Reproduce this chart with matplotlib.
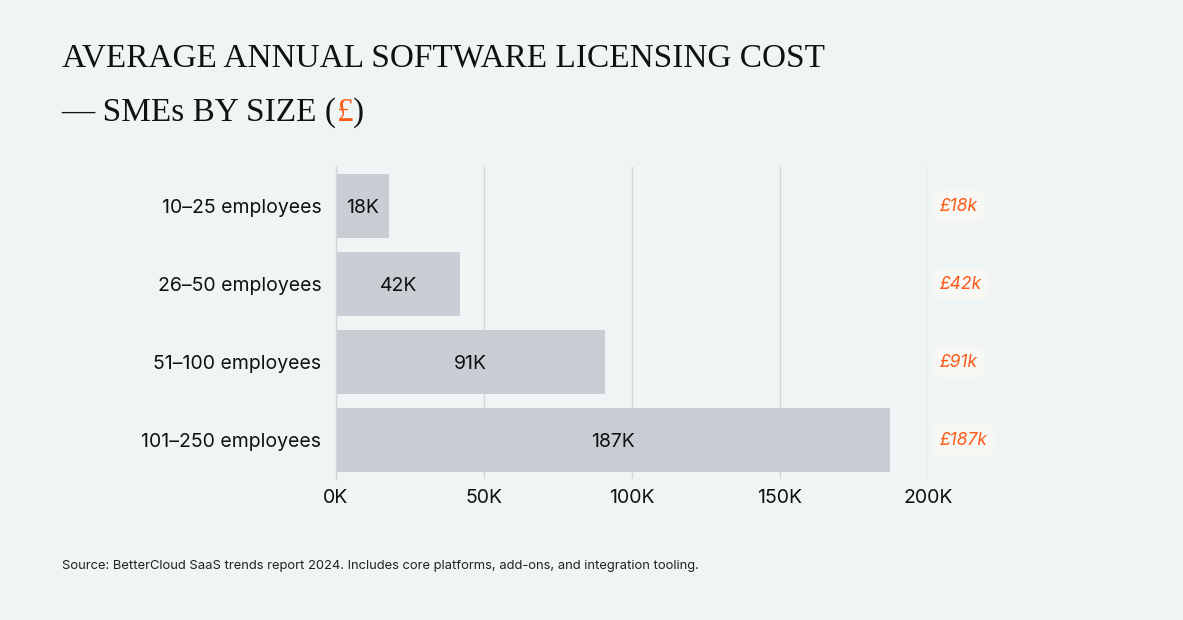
import matplotlib.pyplot as plt
from matplotlib.ticker import FuncFormatter

# data
categories = ['10–25 employees', '26–50 employees', '51–100 employees', '101–250 employees']
costs_k = [18, 42, 91, 187]
x_ticks = [0, 50, 100, 150, 200]

bg = '#eff4f4'
bar_color = '#c9ced4'
grid_color = '#d3d7da'
orange = '#ff5a1a'

fig = plt.figure(figsize=(11.83, 6.2), dpi=100, facecolor=bg)
ax = fig.add_axes([0.284, 0.2274, 0.5005, 0.5032])
ax.set_facecolor(bg)

y = range(len(categories))
bars = ax.barh(y, costs_k, height=0.82, color=bar_color, zorder=2)

ax.set_xlim(0, 200)
ax.set_ylim(len(categories) - 0.5, -0.5)
ax.set_xticks(x_ticks)
ax.xaxis.set_major_formatter(FuncFormatter(lambda v, p: f'{int(v)}K'))
ax.set_yticks(list(y))
ax.set_yticklabels(categories)
ax.tick_params(axis='both', length=0, labelsize=14, colors='#111111')
ax.tick_params(axis='x', pad=7)
ax.tick_params(axis='y', pad=10.5)
for lab in ax.get_xticklabels() + ax.get_yticklabels():
    lab.set_family('Inter')

ax.grid(axis='x', color=grid_color, linewidth=1, zorder=0)
for s in ['top', 'right', 'bottom']:
    ax.spines[s].set_visible(False)
ax.spines['left'].set_color(grid_color)
ax.spines['left'].set_linewidth(1)

# value labels inside bars
for b, v in zip(bars, costs_k):
    ax.text(v / 2, b.get_y() + b.get_height() / 2 + 0.02, f'{v}K', ha='center', va='center',
            fontsize=14, family='Inter', color='#111111', zorder=3)

# orange labels on the right
for i, v in enumerate(costs_k):
    ax.text(204, i, f'£{v}k', ha='left', va='center', fontsize=12.5, style='italic',
            family=['Inter', 'DejaVu Sans'], color=orange, zorder=3, clip_on=False,
            bbox=dict(boxstyle='round,pad=0.42,rounding_size=0.55', fc='#f7f7f4', ec='none'))

# title
title_kw = dict(fontsize=30, family=['Liberation Serif'], color='#111111')
t1 = fig.text(0.052, 0.893, 'AVERAGE ANNUAL SOFTWARE LICENSING COST', ha='left', va='baseline', **title_kw)
fig.canvas.draw()
r = fig.canvas.get_renderer()
w = t1.get_window_extent(r).width
title_kw['fontsize'] = 30 * 760 / w
t1.set_fontsize(title_kw['fontsize'])
t2 = fig.text(0.052, 0.805, '— SMEs BY SIZE (', ha='left', va='baseline', **title_kw)
t3 = fig.text(0, 0, '£', ha='left', va='baseline', **{**title_kw, 'color': orange})
fig.canvas.draw()
bb = t2.get_window_extent(r).transformed(fig.transFigure.inverted())
t3.set_position((bb.x1, 0.805))
bb3 = t3.get_window_extent(r).transformed(fig.transFigure.inverted())
fig.text(bb3.x1, 0.805, ')', ha='left', va='baseline', **title_kw)

fig.text(0.052, 0.082, 'Source: BetterCloud SaaS trends report 2024. Includes core platforms, add-ons, and integration tooling.',
         ha='left', va='baseline', fontsize=9.35, family='Inter', color='#222222')

fig.savefig('out.png', dpi=100, facecolor=bg)
